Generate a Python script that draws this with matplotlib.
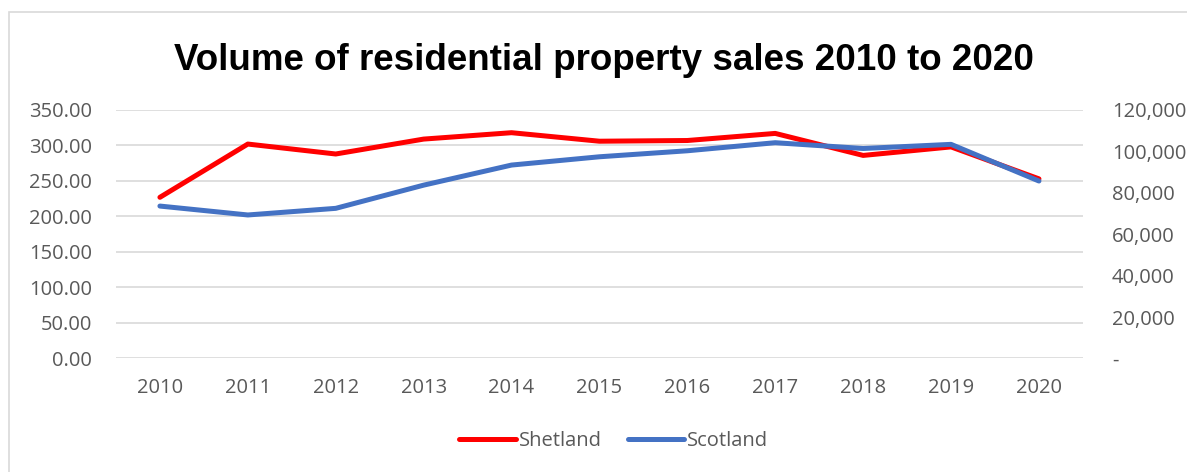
import matplotlib
matplotlib.use("Agg")
import matplotlib.pyplot as plt
from matplotlib.lines import Line2D
from matplotlib.patches import Rectangle
from matplotlib.ticker import FuncFormatter

years = ["2010", "2011", "2012", "2013", "2014", "2015",
         "2016", "2017", "2018", "2019", "2020"]
shetland = [227, 302, 288, 309, 318, 306, 307, 317, 286, 298, 253]
scotland = [73600, 69300, 72500, 83700, 93400, 97400,
            100300, 104200, 101400, 103400, 85700]

RED = "#FF0000"
BLUE = "#4472C4"
GRID = "#D9D9D9"
TEXT = "#595959"

plt.rcParams["font.family"] = ["Open Sans", "DejaVu Sans"]

fig = plt.figure(figsize=(11.87, 4.72), dpi=100)
ax = fig.add_axes([0.0977, 0.2405, 0.8146, 0.5265])
ax2 = ax.twinx()

x = list(range(len(years)))
ax.plot(x, shetland, color=RED, lw=3.6, solid_capstyle="round", solid_joinstyle="round")
ax2.plot(x, scotland, color=BLUE, lw=3.6, solid_capstyle="round", solid_joinstyle="round")

ax.set_xlim(-0.5, len(years) - 0.5)
ax.set_ylim(0, 350)
ax.set_yticks(range(0, 351, 50))
ax.yaxis.set_major_formatter(FuncFormatter(lambda v, p: f"{v:.2f}"))
ax2.set_ylim(0, 120000)
ax2.set_yticks(range(0, 120001, 20000))
ax2.yaxis.set_major_formatter(FuncFormatter(lambda v, p: "-" if v == 0 else f"{v:,.0f}"))

ax.set_xticks(x)
ax.set_xticklabels(years)
ax.grid(axis="y", color=GRID, lw=1.2)
ax.set_axisbelow(True)

for a in (ax, ax2):
    for s in a.spines.values():
        s.set_visible(False)
    a.tick_params(length=0, labelsize=14.5, colors=TEXT)
ax.tick_params(axis="y", pad=17)
ax.tick_params(axis="x", pad=14)
ax2.tick_params(axis="y", pad=21)

fig.text(0.509, 0.872, "Volume of residential property sales 2010 to 2020",
         ha="center", va="center", fontsize=26.5, fontweight="bold", color="black",
         family=["Liberation Sans", "DejaVu Sans"])

handles = [Line2D([], [], color=RED, lw=3.6, solid_capstyle="round"),
           Line2D([], [], color=BLUE, lw=3.6, solid_capstyle="round")]
fig.legend(handles, ["Shetland", "Scotland"], loc="center", bbox_to_anchor=(0.517, 0.065),
           ncol=2, frameon=False, fontsize=14.5, labelcolor=TEXT,
           handlelength=2.8, handletextpad=0.15, columnspacing=1.3)

fig.patches.append(Rectangle((9 / 1187, -0.1), 1.2, 1.1 - 12 / 472, transform=fig.transFigure,
                             fill=False, edgecolor=GRID, lw=1.2))

fig.savefig("out.png", dpi=100)
